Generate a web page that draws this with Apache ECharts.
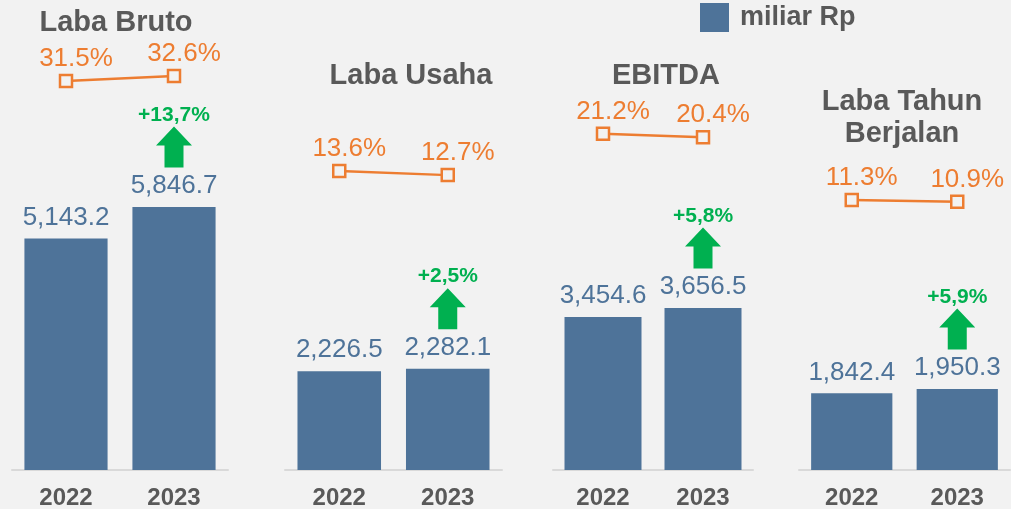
<!DOCTYPE html>
<html>
<head>
<meta charset="utf-8">
<script src="https://cdn.jsdelivr.net/npm/echarts@6/dist/echarts.min.js"></script>
<style>
  * { margin: 0; padding: 0; }
  body { background: #f2f2f2; }
  #chart { width: 1011px; height: 509px; }
</style>
</head>
<body>
<div id="chart"></div>
<script>
  // data
  var years = ['2022', '2023'];
  var panelTitles = ['Laba Bruto', 'Laba Usaha', 'EBITDA', 'Laba Tahun\nBerjalan'];
  var labaBruto = [5143.2, 5846.7];
  var labaUsaha = [2226.5, 2282.1];
  var ebitda = [3454.6, 3656.5];
  var labaTahunBerjalan = [1842.4, 1950.3];
  var marginBruto = [31.5, 32.6];
  var marginUsaha = [13.6, 12.7];
  var marginEbitda = [21.2, 20.4];
  var marginTahunBerjalan = [11.3, 10.9];
  var growth = ['+13,7%', '+2,5%', '+5,8%', '+5,9%'];

  var barData = [labaBruto, labaUsaha, ebitda, labaTahunBerjalan];
  var marginData = [marginBruto, marginUsaha, marginEbitda, marginTahunBerjalan];

  // layout per panel
  var gridLeft = [12, 285, 553, 799];
  var gridWidth = [216, 217, 200, 211];
  var barMax = [10444, 10585, 10610, 11300];
  var lineMin = [-54.9, -52.8, -53.5, -48.7];
  var titlePos = [[116, 23], [411, 76], [666, 76], [902, 118]];

  var blue = '#4e7399';
  var orange = '#ed7d31';
  var green = '#00b050';
  var gray = '#595959';
  var font = '"Liberation Sans", Arial, sans-serif';
  var arrow = 'path://M18,0 L36,19 L27.5,19 L27.5,41 L8.5,41 L8.5,19 L0,19 Z';

  var fmt = function (v) {
    return v.toLocaleString('en-US', { minimumFractionDigits: 1, maximumFractionDigits: 1 });
  };

  var grid = [], xAxis = [], yAxis = [], series = [], graphic = [];
  for (var i = 0; i < 4; i++) {
    grid.push({ left: gridLeft[i], width: gridWidth[i], top: 0, bottom: 39, outerBoundsMode: 'none', containLabel: false });
    xAxis.push({
      type: 'category', gridIndex: i, data: years,
      axisLine: { lineStyle: { color: '#d9d9d9', width: 2 } },
      axisTick: { length: 7, lineStyle: { color: '#d9d9d9', width: 2 } },
      axisLabel: { color: gray, fontSize: 24, fontWeight: 'bold', fontFamily: font, margin: 16 }
    });
    yAxis.push({ type: 'value', gridIndex: i, min: 0, max: barMax[i], show: false });
    yAxis.push({ type: 'value', gridIndex: i, min: lineMin[i], max: lineMin[i] + 104.4, show: false });

    series.push({
      name: 'miliar Rp', type: 'bar', xAxisIndex: i, yAxisIndex: 2 * i,
      data: barData[i], barWidth: '77%',
      itemStyle: { color: blue },
      label: {
        show: true, position: 'top', distance: 8, color: blue,
        fontSize: 26, fontFamily: font,
        formatter: function (p) { return fmt(p.value); }
      }
    });
    series.push({
      name: 'margin', type: 'line', xAxisIndex: i, yAxisIndex: 2 * i + 1,
      data: marginData[i], symbol: 'rect', symbolSize: 12,
      lineStyle: { color: orange, width: 2.5 },
      itemStyle: { color: '#f2f2f2', borderColor: orange, borderWidth: 2.5 },
      label: {
        show: true, position: 'top', distance: 2, offset: [10, 0], color: orange,
        fontSize: 26, fontFamily: font,
        formatter: function (p) { return p.value.toFixed(1) + '%'; }
      }
    });
    series.push({
      name: 'growth', type: 'scatter', xAxisIndex: i, yAxisIndex: 2 * i,
      data: [[years[1], barData[i][1]]],
      symbol: arrow, symbolSize: [36, 41], symbolOffset: [0, -60],
      itemStyle: { color: green, opacity: 1 },
      label: {
        show: true, position: 'top', distance: 1, color: green,
        fontSize: 21, fontWeight: 'bold', fontFamily: font,
        formatter: (function (g) { return function () { return g; }; })(growth[i])
      },
      z: 5
    });

    graphic.push({
      type: 'text', x: titlePos[i][0], y: titlePos[i][1],
      style: {
        text: panelTitles[i], fill: gray, font: 'bold 29px ' + font,
        textAlign: 'center', textVerticalAlign: 'middle', lineHeight: 32
      }
    });
  }

  var chart = echarts.init(document.getElementById('chart'));
  chart.setOption({
    backgroundColor: '#f2f2f2',
    animation: false,
    legend: {
      data: ['miliar Rp'], left: 700, top: 3, padding: 0,
      icon: 'rect', itemWidth: 29, itemHeight: 29,
      textStyle: { color: gray, fontSize: 27, fontWeight: 'bold', fontFamily: font, padding: [0, 0, 0, 6] }
    },
    grid: grid,
    xAxis: xAxis,
    yAxis: yAxis,
    series: series,
    graphic: graphic
  });
</script>
</body>
</html>
